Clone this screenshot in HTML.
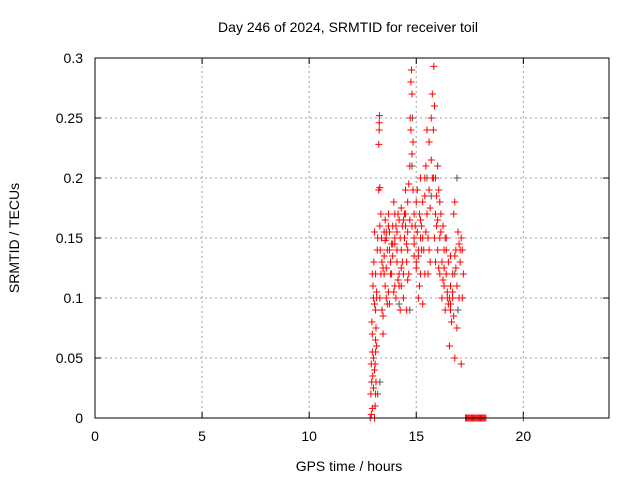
<!DOCTYPE html>
<html><head><meta charset="utf-8"><style>
html,body{margin:0;padding:0;background:#fff}
svg{display:block;font-family:"Liberation Sans",sans-serif}
</style></head><body>
<svg id="chart" width="640" height="480" xmlns="http://www.w3.org/2000/svg">
<rect width="640" height="480" fill="#fff"/>
<g id="grid"></g>
<g id="axes"></g>
<g id="gray"></g>
<g id="red"></g>
<rect x="95" y="58" width="514" height="360" fill="none" stroke="#000" stroke-width="1"/>
<text x="348" y="32" text-anchor="middle" font-size="14">Day 246 of 2024, SRMTID for receiver toil</text>
<text x="349" y="471" text-anchor="middle" font-size="14">GPS time / hours</text>
<text transform="translate(19,238) rotate(-90)" text-anchor="middle" font-size="14">SRMTID / TECUs</text>
</svg>
<script>
const xTicks=[0,5,10,15,20];
const yTicks=[0,0.05,0.1,0.15,0.2,0.25,0.3];
const yTickLabels=["0","0.05","0.1","0.15","0.2","0.25","0.3"];
const redTimes=[12.85,12.9,12.95,12.88,12.92,12.97,12.9,13.0,12.95,12.93,13.0,12.98,12.95,13.02,13.05,13.05,13.08,13.1,13.12,13.08,13.1,13.15,13.12,13.1,13.05,13.15,13.1,13.18,13.2,13.25,13.27,13.27,13.28,13.25,13.3,13.35,13.3,13.38,13.32,13.4,13.35,13.3,13.4,13.45,13.45,13.5,13.55,13.5,13.6,13.55,13.6,13.65,13.7,13.7,13.75,13.8,13.75,13.85,13.9,13.9,13.95,14.0,14.0,14.05,14.1,14.1,14.15,14.2,14.2,14.25,14.3,14.3,14.35,14.4,14.4,14.45,14.5,14.5,14.55,14.55,14.6,14.6,14.65,14.65,14.7,14.72,14.75,14.78,14.8,14.75,14.8,14.85,14.85,14.9,14.9,14.95,15.0,15.0,15.05,15.1,15.1,15.15,15.2,15.2,15.25,15.3,15.3,15.35,15.4,15.4,15.45,15.5,15.5,15.55,15.6,15.6,15.65,15.7,15.75,15.8,15.82,15.85,15.8,15.85,15.9,15.9,15.95,16.0,16.0,16.05,16.1,16.1,16.15,16.2,16.2,16.25,16.3,16.3,16.35,16.4,16.4,16.45,16.5,16.55,16.55,16.6,16.6,16.65,16.7,16.7,16.75,16.8,16.8,16.85,16.9,16.9,16.95,17.0,17.0,17.05,17.1,17.1,17.15,17.2];
const redValues=[0,0.003,0.008,0.02,0.03,0.035,0.045,0.05,0.07,0.08,0.1,0.11,0.12,0.13,0.155,0.0,0.01,0.02,0.03,0.045,0.055,0.06,0.075,0.09,0.095,0.1,0.12,0.14,0.15,0.228,0.24,0.246,0.252,0.19,0.192,0.17,0.16,0.15,0.14,0.13,0.12,0.1,0.09,0.07,0.085,0.155,0.148,0.12,0.1,0.11,0.125,0.14,0.16,0.17,0.155,0.13,0.095,0.12,0.16,0.145,0.18,0.17,0.11,0.1,0.155,0.13,0.17,0.165,0.12,0.09,0.11,0.14,0.16,0.12,0.1,0.15,0.19,0.16,0.13,0.09,0.18,0.14,0.195,0.12,0.21,0.25,0.28,0.29,0.27,0.24,0.22,0.23,0.19,0.17,0.15,0.16,0.18,0.13,0.155,0.1,0.14,0.17,0.2,0.12,0.16,0.095,0.18,0.14,0.2,0.12,0.21,0.24,0.17,0.15,0.23,0.19,0.13,0.25,0.27,0.24,0.293,0.26,0.2,0.15,0.17,0.13,0.16,0.21,0.14,0.19,0.18,0.12,0.155,0.13,0.1,0.16,0.14,0.11,0.09,0.12,0.15,0.105,0.13,0.06,0.1,0.11,0.09,0.08,0.1,0.12,0.17,0.18,0.05,0.14,0.075,0.11,0.155,0.145,0.1,0.13,0.15,0.045,0.14,0.12];
const extraTimes=[13.6,13.8,14.0,14.2,14.4,14.6,14.3,13.9,15.0,15.2,15.6,16.0,16.3,16.6,16.8,13.7,14.9,15.3,13.55,13.65,13.85,13.95,14.05,14.15,14.25,14.35,14.45,14.55,14.7,14.9,15.05,15.15,15.25,15.45,15.55,15.65,15.75,15.95,16.05,16.15,16.25,16.35,16.45,16.6,16.7,16.85,17.05,17.15,13.45,13.6,13.75,14.0,14.3,14.5,14.8,15.1,15.4,15.7,16.1,16.5,16.75,13.0,13.05,13.1,12.95,13.15,13.5,14.1,14.6,15.2,15.9,16.4];
const extraValues=[0.15,0.12,0.145,0.11,0.165,0.115,0.175,0.135,0.125,0.165,0.14,0.165,0.125,0.095,0.135,0.105,0.135,0.15,0.165,0.095,0.145,0.105,0.16,0.115,0.15,0.13,0.17,0.145,0.165,0.145,0.19,0.11,0.14,0.155,0.12,0.175,0.2,0.185,0.125,0.17,0.115,0.15,0.1,0.135,0.105,0.125,0.14,0.1,0.125,0.155,0.14,0.15,0.125,0.17,0.16,0.135,0.185,0.215,0.15,0.095,0.085,0.025,0.04,0.065,0.055,0.105,0.135,0.14,0.155,0.15,0.2,0.14];
const zeroTimes=[17.3,17.35,17.4,17.45,17.5,17.55,17.6,17.65,17.7,17.75,17.8,17.85,17.9,17.95,18.0,18.05,18.1,18.15,18.2,18.25,20.0];
const zeroValues=[0,0,0,0,0,0,0,0,0,0,0,0,0,0,0,0,0,0,0,0,0];
const grayTimes=[13.2,14.8,14.82,16.9,14.7,16.8,15.5,13.3,14.2,15.7,16.95];
const grayValues=[0.02,0.21,0.25,0.2,0.09,0.12,0.2,0.03,0.095,0.185,0.09];
const X0=95,X1=609,Y0=418,Y1=58,XMAX=24,YMAX=0.3;
function xs(t){return X0+(X1-X0)*t/XMAX;}
function ys(v){return Y0-(Y0-Y1)*v/YMAX;}
const NS="http://www.w3.org/2000/svg";
function mk(tag,attrs,parent){const e=document.createElementNS(NS,tag);for(const k in attrs)e.setAttribute(k,attrs[k]);parent.appendChild(e);return e;}
const grid=document.getElementById('grid'),axes=document.getElementById('axes');
xTicks.forEach((t,i)=>{const x=xs(t);
 if(t>0){const g=mk('line',{x1:x,x2:x,y1:Y0,y2:Y1,stroke:'#a0a0a0','stroke-dasharray':'2,3'},grid);
 
 }
 const tk=mk('path',{d:`M${x},${Y0}v-6M${x},${Y1}v6`,stroke:'#000'},axes);
 
 
 const l=mk('text',{x:x,y:Y0+23,'text-anchor':'middle','font-size':14},axes);l.textContent=String(t);
 
 });
yTicks.forEach((v,i)=>{const y=ys(v);
 if(v>0&&v<YMAX){const g=mk('line',{x1:X0,x2:X1,y1:y,y2:y,stroke:'#a0a0a0','stroke-dasharray':'2,3'},grid);
 
 }
 const tk=mk('path',{d:`M${X0},${y}h6M${X1},${y}h-6`,stroke:'#000'},axes);
 
 
 const l=mk('text',{x:X0-12,y:y+5,'text-anchor':'end','font-size':14},axes);l.textContent=yTickLabels[i];
 
 });
function plus(ts,vs,color,parent){const n=Math.min(ts.length,vs.length);for(let i=0;i<n;i++){const x=xs(ts[i]),y=ys(vs[i]);
 const p=mk('path',{d:`M${x-3.5},${y}h7M${x},${y-3.5}v7`,stroke:color,'stroke-width':1},parent);
 
 }}
plus(grayTimes,grayValues,'#555',document.getElementById('gray'));
plus(redTimes,redValues,'#ff0000',document.getElementById('red'));
plus(extraTimes,extraValues,'#ff0000',document.getElementById('red'));
plus(zeroTimes,zeroValues,'#ff0000',document.getElementById('red'));
</script>
</body></html>
